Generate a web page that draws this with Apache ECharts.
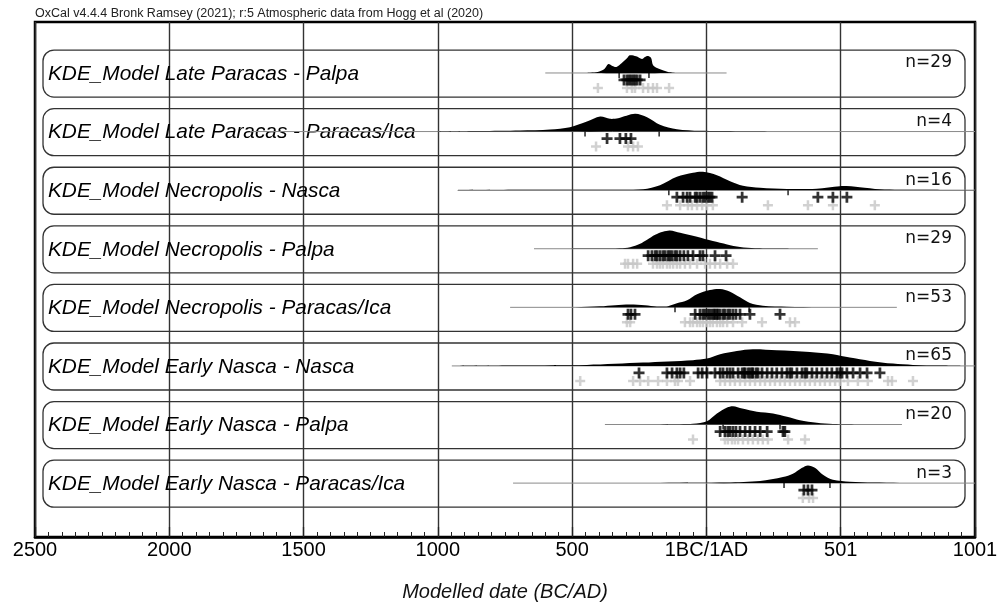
<!DOCTYPE html>
<html><head><meta charset="utf-8">
<script src="https://cdn.jsdelivr.net/npm/echarts@6/dist/echarts.min.js"></script>
<style>html,body{margin:0;padding:0;background:#fff}#c{width:998px;height:604px}</style>
</head><body><div id="c"></div>
<script>
// ---- data (years: negative = BC, 0 = 1BC/1AD boundary) ----
const headerText = 'OxCal v4.4.4 Bronk Ramsey (2021); r:5 Atmospheric data from Hogg et al (2020)';
const axisTitle = 'Modelled date (BC/AD)';
const tickValues = [-2500, -2000, -1500, -1000, -500, 0, 500, 1000];
const tickLabels = ['2500', '2000', '1500', '1000', '500', '1BC/1AD', '501', '1001'];

const rowNames = [
  'KDE_Model Late Paracas - Palpa',
  'KDE_Model Late Paracas - Paracas/Ica',
  'KDE_Model Necropolis - Nasca',
  'KDE_Model Necropolis - Palpa',
  'KDE_Model Necropolis - Paracas/Ica',
  'KDE_Model Early Nasca - Nasca',
  'KDE_Model Early Nasca - Palpa',
  'KDE_Model Early Nasca - Paracas/Ica'
];
const rowCounts = [29, 4, 16, 29, 53, 65, 20, 3];

// KDE density curves: [year, relative density (0-100)]
const kdeLateParacasPalpa = [[-445,0],[-405,5],[-380,20],[-365,45],[-350,35],[-335,30],[-315,50],[-295,75],[-285,88],[-262,83],[-240,70],[-229,80],[-217,85],[-206,75],[-199,40],[-184,25],[-165,15],[-143,5],[-117,0]];
const kdeLateParacasIca = [[-1030,0],[-843,2.5],[-694,5],[-582,10],[-508,21.5],[-445,50],[-396,75],[-359,63.5],[-329,66.5],[-266,88.5],[-221,71.5],[-173,33.5],[-110,11.5],[-24,3.5],[125,1.5],[348,0]];
const kdeNecropolisNasca = [[-925,0],[-582,1.5],[-396,2.5],[-236,5],[-173,25],[-110,66.5],[-50,86.5],[-13,91.5],[39,75],[88,45],[136,21.5],[200,11.5],[300,6],[411,7.5],[497,20],[571,15],[646,5],[795,1.5],[1000,0]];
const kdeNecropolisPalpa = [[-642,0],[-396,1.5],[-322,2.5],[-284,7.5],[-247,25],[-221,45],[-191,70],[-162,85],[-136,91.5],[-98,80],[-35,60],[24,38.5],[77,21.5],[125,8.5],[181,2],[311,0]];
const kdeNecropolisIca = [[-730,0],[-489,1],[-396,5],[-340,11],[-284,14],[-229,10],[-184,4],[-143,6],[-110,20],[-72,35],[-35,65],[13,86.5],[51,91.5],[88,78.5],[125,50],[162,21.5],[210,8.5],[300,3.5],[423,1],[571,0]];
const kdeEarlyNascaNasca = [[-945,0],[-694,2.5],[-445,5],[-236,16.5],[-50,28.5],[2,36.5],[51,58.5],[113,75],[173,83.5],[262,78.5],[385,70],[471,58.5],[534,41.5],[609,25],[695,11.5],[769,5],[869,1.5],[944,0]];
const kdeEarlyNascaPalpa = [[-209,0],[-50,3.5],[2,16.5],[39,55],[77,85],[99,91.5],[133,80],[188,63.5],[248,55],[300,38.5],[348,21.5],[411,8.5],[471,2.5],[571,0]];
const kdeEarlyNascaIca = [[-720,0],[-322,1],[77,2.5],[200,10],[285,30],[322,46.5],[356,76.5],[378,88.5],[404,76.5],[434,41.5],[471,16.5],[534,6.5],[620,2.5],[720,1],[869,0]];
const kdeCurves = [kdeLateParacasPalpa, kdeLateParacasIca, kdeNecropolisNasca, kdeNecropolisPalpa,
  kdeNecropolisIca, kdeEarlyNascaNasca, kdeEarlyNascaPalpa, kdeEarlyNascaIca];

// extent of each model's range line [from, to]
const rangeLines = [[-600,75],[-1700,1000],[-925,1000],[-642,415],[-731,709],[-948,1000],[-378,728],[-720,1000]];
// interval bound markers under each curve
const rangeMarks = [[-325,-214],[-452,-176],[-140,304],[],[-117,159],[],[62,274],[289,460]];

// modelled (black) and unmodelled (grey) dates per row
const blackDates = [
  [-307,-296,-288,-281,-273,-266,-258,-247],
  [-370,-322,-300,-281],
  [-110,-87,-72,-61,-42,-35,-24,-13,-5,6,13,21,133,415,471,523],
  [-217,-203,-191,-184,-173,-162,-154,-143,-136,-128,-117,-110,-98,-84,-69,-50,-24,-13,32,73],
  [-292,-281,-266,-42,-24,-13,-5,6,13,21,28,32,39,43,51,62,69,80,88,99,110,125,162,274],
  [-251,-147,-128,-110,-98,-84,-31,-16,2,32,51,62,77,88,99,118,133,140,144,155,162,170,173,185,192,207,226,244,262,281,300,311,318,337,356,367,374,393,411,430,449,467,486,497,505,523,546,572,598,646],
  [51,69,80,88,99,110,125,144,162,181,200,226,285,292],
  [363,378,393]
];
const greyDates = [
  [-404,-296,-277,-266,-236,-217,-199,-184,-139],
  [-411,-292,-273,-255],
  [-147,-98,-69,-54,-35,-16,2,24,229,378,471,627],
  [-303,-292,-273,-258,-199,-184,-173,-162,-147,-136,-124,-110,-98,-80,-61,-35,-5,13,32,51,77,99],
  [-296,-284,-80,-61,-50,-35,-24,-13,2,13,24,39,51,62,77,99,133,207,311,330],
  [-470,-273,-247,-217,-180,-147,-117,-106,-61,51,69,88,106,125,144,162,181,200,218,237,255,274,292,311,330,348,367,385,404,423,441,460,479,497,527,564,601,676,691,769],
  [-50,69,80,95,106,118,136,155,173,192,210,229,304,367],
  [359,382,397]
];

// ---- layout helpers ----
const ROW_BASE = 0.49;          // baseline position inside a row band
const baseOf = i => i + ROW_BASE;
const DENS_PX = 0.2;            // px per density unit
const FONT = '"Liberation Sans", Arial, sans-serif';
const PLUS = 'path://M3.75,0h2.5v3.75h3.75v2.5h-3.75v3.75h-2.5v-3.75h-3.75v-2.5h3.75z';

const chart = echarts.init(document.getElementById('c'), null, {renderer: 'canvas'});

const series = [];

// row boxes + labels
series.push({
  type: 'custom', z: 1, silent: true,
  data: rowNames.map((n, i) => [i]),
  renderItem: function (params, api) {
    const i = api.value(0);
    const cs = params.coordSys;
    const yc = api.coord([0, i + 0.5])[1];
    const top = yc - 23.5;
    const by = api.coord([0, baseOf(i)])[1];
    return {
      type: 'group', children: [
        {type: 'rect', shape: {x: cs.x + 8, y: top, width: cs.width - 18, height: 47, r: 11},
          style: {fill: 'none', stroke: '#333', lineWidth: 1.3}},
        {type: 'text', style: {text: rowNames[i], x: cs.x + 13, y: by + 1, verticalAlign: 'middle',
          font: 'italic 20.8px ' + FONT, fill: '#000'}},
        {type: 'text', style: {text: 'n=' + rowCounts[i], x: cs.x + cs.width - 23, y: top + 13,
          align: 'right', verticalAlign: 'middle', font: '17px "DejaVu Sans", sans-serif', fill: '#111'}}
      ]
    };
  }
});

// range lines
rangeLines.forEach((r, i) => {
  series.push({
    type: 'line', z: 2, silent: true, symbol: 'none', animation: false,
    data: [[r[0], baseOf(i)], [r[1], baseOf(i)]],
    lineStyle: {color: '#8a8a8a', width: 1}
  });
});

// KDE shapes
series.push({
  type: 'custom', z: 3, silent: true,
  data: kdeCurves.map((c, i) => [i]),
  renderItem: function (params, api) {
    const i = api.value(0);
    const pts = kdeCurves[i].map(p => {
      const q = api.coord([p[0], baseOf(i)]);
      return [q[0], q[1] - p[1] * DENS_PX];
    });
    return {type: 'polygon', shape: {points: pts, smooth: 0.3}, style: {fill: '#000'}};
  }
});

// range marks
series.push({
  type: 'scatter', z: 4, silent: true, symbol: 'rect', symbolSize: [1.6, 5], symbolOffset: [0, 2.5],
  itemStyle: {color: '#000'},
  data: rangeMarks.flatMap((arr, i) => arr.map(v => [v, baseOf(i)]))
});

// grey crosses
series.push({
  type: 'scatter', z: 5, silent: true, symbol: PLUS, symbolSize: 10, symbolOffset: [0, 15],
  itemStyle: {color: '#c6c6c6'},
  data: greyDates.flatMap((arr, i) => arr.map(v => [v, baseOf(i)]))
});
// black crosses
series.push({
  type: 'scatter', z: 6, silent: true, symbol: PLUS, symbolSize: 11, symbolOffset: [0, 7],
  itemStyle: {color: '#000'},
  data: blackDates.flatMap((arr, i) => arr.map(v => [v, baseOf(i)]))
});

chart.setOption({
  animation: false,
  backgroundColor: '#fff',
  title: {
    text: headerText, left: 35, top: 7, padding: 0,
    textStyle: {fontSize: 12.5, fontWeight: 'normal', color: '#222', fontFamily: FONT}
  },
  grid: {left: 35, right: 23, top: 22, bottom: 67, show: true, borderColor: '#000', borderWidth: 2.5,
    containLabel: false, outerBoundsMode: 'none'},
  xAxis: {
    type: 'value', min: -2500, max: 1000, interval: 500,
    name: axisTitle, nameLocation: 'middle', nameGap: 45,
    nameTextStyle: {fontSize: 20, fontStyle: 'italic', color: '#111', fontFamily: FONT},
    axisLine: {show: true, onZero: false, lineStyle: {color: '#000', width: 2.5}},
    axisTick: {show: true, inside: true, length: 10, lineStyle: {color: '#222', width: 1.3}},
    minorTick: {show: true, splitNumber: 10, length: 5, lineStyle: {color: '#222', width: 1}},
    splitLine: {show: true, lineStyle: {color: '#333', width: 1.4}},
    axisLabel: {
      fontSize: 20, color: '#000', margin: 3, fontFamily: FONT, showMinLabel: true, showMaxLabel: true,
      formatter: v => { const k = tickValues.indexOf(v); return k >= 0 ? tickLabels[k] : ''; }
    }
  },
  yAxis: {type: 'value', min: -0.38, max: 8.41, inverse: true, show: false},
  series: series
});
</script></body></html>
